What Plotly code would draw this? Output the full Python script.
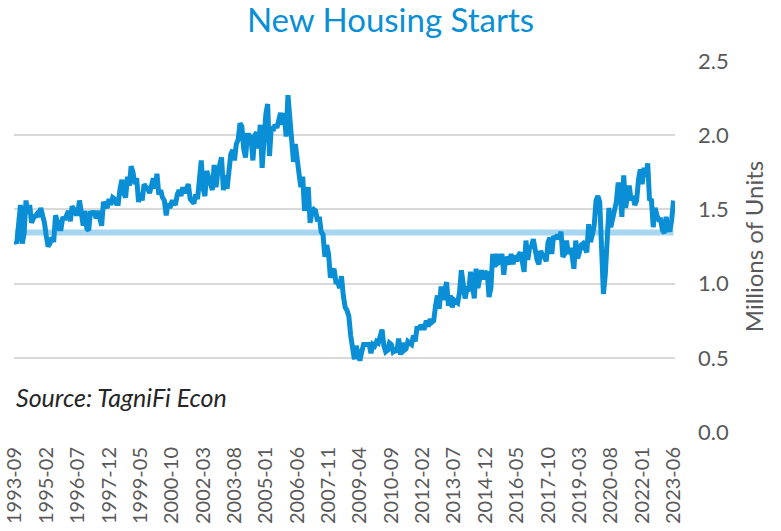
import numpy as np
import pandas as pd
import plotly.graph_objects as go

# monthly housing starts, millions of units (SAAR), 1993-09 .. 2023-06
y1993 = [1.29, 1.27, 1.40, 1.53]
y1994 = [1.27, 1.34, 1.56, 1.47, 1.53, 1.41, 1.44, 1.45, 1.47, 1.45, 1.51, 1.46]
y1995 = [1.41, 1.32, 1.25, 1.27, 1.31, 1.28, 1.46, 1.42, 1.37, 1.37, 1.45, 1.43]
y1996 = [1.47, 1.49, 1.42, 1.52, 1.50, 1.47, 1.47, 1.56, 1.48, 1.39, 1.49, 1.37]
y1997 = [1.36, 1.49, 1.46, 1.49, 1.44, 1.49, 1.44, 1.39, 1.55, 1.52, 1.51, 1.57]
y1998 = [1.53, 1.58, 1.57, 1.54, 1.54, 1.64, 1.70, 1.61, 1.58, 1.72, 1.66, 1.79]
y1999 = [1.75, 1.67, 1.71, 1.55, 1.61, 1.56, 1.67, 1.65, 1.64, 1.61, 1.65, 1.71]
y2000 = [1.64, 1.74, 1.60, 1.63, 1.58, 1.56, 1.46, 1.54, 1.51, 1.55, 1.55, 1.53]
y2001 = [1.60, 1.63, 1.59, 1.65, 1.61, 1.64, 1.67, 1.57, 1.56, 1.54, 1.60, 1.57]
y2002 = [1.70, 1.83, 1.64, 1.59, 1.76, 1.72, 1.66, 1.63, 1.80, 1.65, 1.75, 1.79]
y2003 = [1.85, 1.63, 1.73, 1.64, 1.75, 1.87, 1.90, 1.83, 1.94, 1.97, 2.08, 2.06]
y2004 = [1.91, 1.85, 2.00, 2.00, 1.98, 1.83, 2.00, 2.02, 1.91, 2.07, 1.78, 2.04]
y2005 = [2.14, 2.21, 1.86, 2.06, 2.03, 2.07, 2.05, 2.10, 2.15, 2.07, 2.15, 1.99]
y2006 = [2.27, 2.12, 1.97, 1.82, 1.94, 1.80, 1.74, 1.65, 1.72, 1.49, 1.57, 1.65]
y2007 = [1.41, 1.48, 1.50, 1.49, 1.42, 1.45, 1.35, 1.33, 1.18, 1.26, 1.20, 1.04]
y2008 = [1.08, 1.10, 1.01, 1.01, 0.97, 1.05, 0.92, 0.84, 0.82, 0.78, 0.65, 0.56]
y2009 = [0.49, 0.58, 0.51, 0.48, 0.54, 0.59, 0.59, 0.59, 0.59, 0.53, 0.59, 0.58]
y2010 = [0.61, 0.60, 0.64, 0.69, 0.58, 0.54, 0.55, 0.60, 0.59, 0.54, 0.55, 0.54]
y2011 = [0.63, 0.52, 0.60, 0.55, 0.56, 0.61, 0.60, 0.59, 0.65, 0.61, 0.71, 0.69]
y2012 = [0.72, 0.70, 0.70, 0.75, 0.71, 0.76, 0.74, 0.75, 0.85, 0.92, 0.83, 0.98]
y2013 = [0.89, 0.96, 1.01, 0.85, 0.92, 0.84, 0.89, 0.88, 0.87, 0.94, 1.09, 1.00]
y2014 = [0.90, 0.96, 0.95, 1.08, 0.98, 0.90, 1.10, 0.97, 1.04, 1.09, 1.03, 1.07]
y2015 = [1.08, 0.91, 0.97, 1.20, 1.11, 1.20, 1.14, 1.15, 1.20, 1.06, 1.18, 1.15]
y2016 = [1.13, 1.20, 1.13, 1.19, 1.15, 1.19, 1.21, 1.15, 1.08, 1.29, 1.16, 1.24]
y2017 = [1.25, 1.30, 1.21, 1.16, 1.13, 1.22, 1.19, 1.18, 1.15, 1.28, 1.31, 1.20]
y2018 = [1.32, 1.30, 1.33, 1.30, 1.35, 1.18, 1.20, 1.29, 1.20, 1.24, 1.19, 1.10]
y2019 = [1.29, 1.17, 1.21, 1.26, 1.27, 1.24, 1.21, 1.40, 1.28, 1.33, 1.39, 1.56]
y2020 = [1.59, 1.55, 1.26, 0.93, 1.06, 1.28, 1.51, 1.38, 1.44, 1.53, 1.55, 1.68]
y2021 = [1.63, 1.45, 1.73, 1.51, 1.59, 1.66, 1.56, 1.59, 1.53, 1.56, 1.70, 1.77]
y2022 = [1.67, 1.78, 1.72, 1.81, 1.56, 1.57, 1.38, 1.51, 1.46, 1.43, 1.43, 1.36]
y2023 = [1.34, 1.45, 1.38, 1.35, 1.43, 1.56]

starts = (y1993 + y1994 + y1995 + y1996 + y1997 + y1998 + y1999 + y2000 + y2001
          + y2002 + y2003 + y2004 + y2005 + y2006 + y2007 + y2008 + y2009 + y2010
          + y2011 + y2012 + y2013 + y2014 + y2015 + y2016 + y2017 + y2018 + y2019
          + y2020 + y2021 + y2022 + y2023)

months = pd.date_range("1993-09-01", periods=len(starts), freq="MS").strftime("%Y-%m").tolist()
tick_labels = months[::17]
average = float(np.mean(starts))

fig = go.Figure()
fig.add_trace(go.Scatter(
    x=months, y=[average] * len(months), mode="lines",
    line=dict(color="#a6d6f0", width=6), hoverinfo="skip", showlegend=False,
))
fig.add_trace(go.Scatter(
    x=months, y=starts, mode="lines", name="Housing Starts",
    line=dict(color="#0a8fd7", width=5), showlegend=False,
))

fig.update_layout(
    width=781, height=531,
    paper_bgcolor="white", plot_bgcolor="white",
    margin=dict(l=14, r=106, t=61, b=99, autoexpand=False),
    font=dict(family="Lato, Open Sans, sans-serif", color="#595959"),
    title=dict(text="New Housing Starts", x=0.5, xanchor="center", y=0.962, yanchor="middle",
               font=dict(size=33, color="#0a8fd7")),
    annotations=[dict(text="<i>Source: TagniFi Econ</i>", xref="paper", yref="paper",
                      x=0, y=0.095, xanchor="left", yanchor="middle", showarrow=False,
                      font=dict(size=25, color="#262626"))],
)
fig.update_xaxes(
    type="category", range=[-0.5, len(months) - 0.2], automargin=False,
    tickmode="array", tickvals=tick_labels, ticktext=tick_labels,
    tickangle=-90, tickfont=dict(size=20, color="#595959"), ticklabelstandoff=10,
    showgrid=False, showline=False, ticks="",
)
fig.update_yaxes(
    side="right", range=[0, 2.5], dtick=0.5, tickformat=".1f", automargin=False,
    tickfont=dict(size=22, color="#595959"), ticklabelstandoff=22,
    showgrid=True, gridcolor="#d9d9d9", gridwidth=1.5, zeroline=False,
    title=dict(text="Millions of Units", font=dict(size=24, color="#595959"), standoff=18),
)

# page body has a default 8px margin; drop it so the figure fills the window
fig.write_html("out.html", config={"displayModeBar": False},
               post_script="document.body.style.margin='0';")
